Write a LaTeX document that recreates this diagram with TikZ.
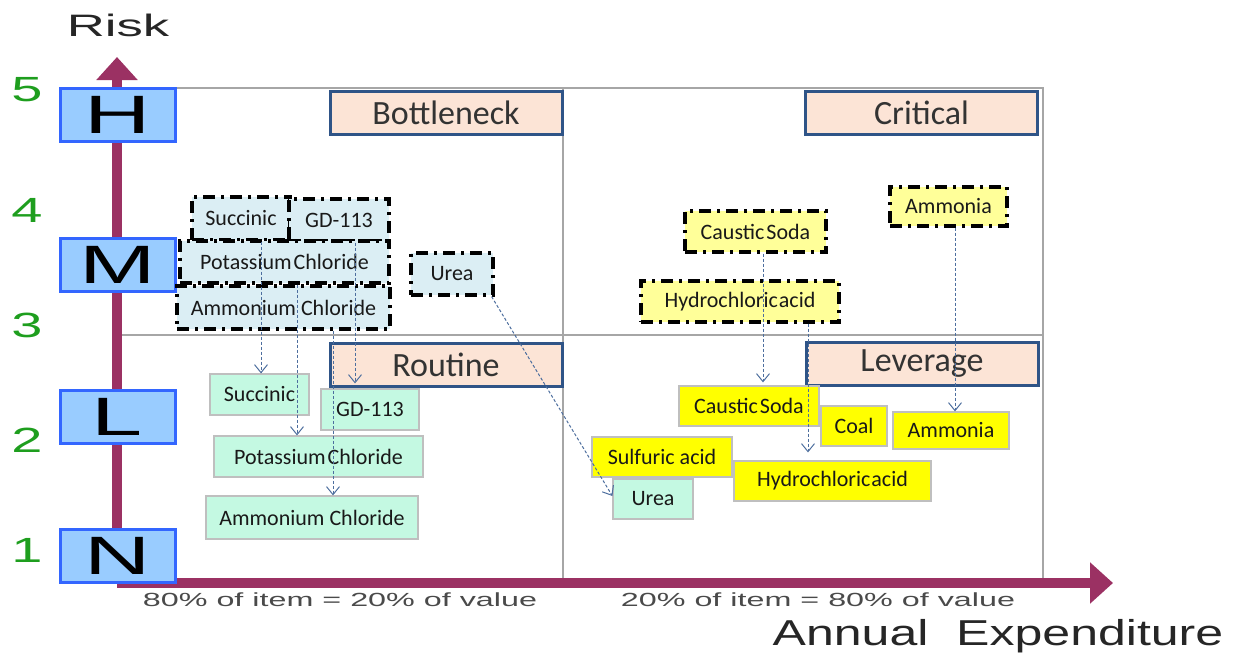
\documentclass[tikz,border=0pt]{standalone}
\usepackage{fontspec}
\usepackage{graphicx}
\setmainfont{Carlito}
\newfontfamily\axisfont{Liberation Sans}
\usetikzlibrary{arrows.meta}

\definecolor{axiscol}{HTML}{9B3163}
\definecolor{gridcol}{HTML}{A6A6A6}
\definecolor{lvlfill}{HTML}{99CCFF}
\definecolor{lvldraw}{HTML}{3366FF}
\definecolor{catfill}{HTML}{FCE4D6}
\definecolor{catdraw}{HTML}{2F5487}
\definecolor{pbluefill}{HTML}{DBEEF4}
\definecolor{pyelfill}{HTML}{FFFF99}
\definecolor{greenfill}{HTML}{C4F9E2}
\definecolor{yelfill}{HTML}{FFFF00}
\definecolor{boxedge}{HTML}{BFBFBF}
\definecolor{linkcol}{HTML}{4D6E9E}
\definecolor{numcol}{HTML}{1E9E1E}
\definecolor{notecol}{HTML}{4A4A4A}

\newcommand\itmfont{\fontsize{22}{26}\selectfont}
\newcommand\catfont{\fontsize{34}{38}\selectfont}
\newcommand\lvltext[1]{\axisfont\fontsize{54}{54}\selectfont\scalebox{1.7}[1]{#1}}
\newcommand\numtext[1]{\axisfont\fontsize{35}{35}\selectfont\scalebox{1.6}[1]{#1}}

\tikzset{
  itembox/.style={rectangle, inner sep=0pt, font=\itmfont, text=black!90},
  planbox/.style={itembox, draw=black, line width=3.2pt,
    dash pattern=on 12pt off 6pt on 3pt off 6pt},
  planblue/.style={planbox, fill=pbluefill},
  planyel/.style={planbox, fill=pyelfill},
  donebox/.style={itembox, draw=boxedge, line width=1.2pt},
  donegreen/.style={donebox, fill=greenfill},
  doneyel/.style={donebox, fill=yelfill},
  catbox/.style={rectangle, inner sep=0pt, draw=catdraw, line width=3pt,
    fill=catfill, font=\catfont, text=black!80,
    minimum width=232pt, minimum height=43pt},
  lvlbox/.style={rectangle, inner sep=0pt, draw=lvldraw, line width=3pt,
    fill=lvlfill, minimum width=115pt, minimum height=53pt},
  numlbl/.style={inner sep=0pt, text=numcol},
  axisline/.style={draw=axiscol, line width=10pt,
    -{Triangle[length=23pt,width=40pt]}},
  gridline/.style={draw=gridcol, line width=1.8pt},
  link/.style={draw=linkcol, line width=1pt, dash pattern=on 3pt off 2pt,
    -{Straight Barb[length=8pt,width=13pt]}},
}

\begin{document}
\begin{tikzpicture}[x=1pt,y=-1pt]
\useasboundingbox (0,0) rectangle (1239,656);

% quadrant grid
\draw[gridline] (117,88) rectangle (1043,583);
\draw[gridline] (563,88) -- (563,583);
\draw[gridline] (117,335) -- (1043,335);

% axes
\coordinate (orig) at (117,583);
\coordinate (ytip) at (117,57);
\coordinate (xtip) at (1113,583);
\draw[axisline] (orig) -- (ytip);
\draw[axisline] (orig) -- (xtip);

\node[inner sep=0pt, font=\axisfont\fontsize{31}{31}\selectfont, text=black!85]
  (risk) at (118,25) {\scalebox{1.7}[1]{Risk}};
\node[inner sep=0pt, font=\axisfont\fontsize{36}{36}\selectfont, text=black!85]
  (spend) at (998,636) {\scalebox{1.39}[1]{Annual\ \ Expenditure}};
\node[inner sep=0pt, font=\axisfont\fontsize{19}{19}\selectfont, text=notecol]
  (lownote) at (340,600) {\scalebox{1.7}[1]{80\% of item = 20\% of value}};
\node[inner sep=0pt, font=\axisfont\fontsize{19}{19}\selectfont, text=notecol]
  (highnote) at (818,600) {\scalebox{1.7}[1]{20\% of item = 80\% of value}};

% risk levels
\node[lvlbox] (lvH) at (117.5,114.5) {\lvltext{H}};
\node[lvlbox] (lvM) at (117.5,265) {\lvltext{M}};
\node[lvlbox] (lvL) at (117.5,417) {\lvltext{L}};
\node[lvlbox] (lvN) at (117.5,556) {\lvltext{N}};

\node[numlbl] (n5) at (27,90) {\numtext{5}};
\node[numlbl] (n4) at (27,210) {\numtext{4}};
\node[numlbl] (n3) at (27,325) {\numtext{3}};
\node[numlbl] (n2) at (27,440) {\numtext{2}};
\node[numlbl] (n1) at (27,550) {\numtext{1}};

% quadrant titles
\node[catbox] (bottleneck) at (446,112.5) {Bottleneck};
\node[catbox] (critical) at (921.5,112.5) {Critical};
\node[catbox] (routine) at (446,364.5) {Routine};
\node[catbox] (leverage) at (922,363.5) {Leverage};

% planned positions
\node[planblue, minimum width=98pt, minimum height=43pt] (dSucc) at (241,218.5) {Succinic};
\node[planblue, minimum width=100pt, minimum height=42pt] (dGD) at (339,220) {GD-113};
\node[planblue, minimum width=209pt, minimum height=42pt] (dPot) at (284.5,262) {Potassium\kern2pt Chloride};
\node[planblue, minimum width=213pt, minimum height=43pt] (dAmm) at (283.5,307.5) {Ammonium Chloride};
\node[planblue, minimum width=82pt, minimum height=42pt] (dUrea) at (452,274) {Urea};
\node[planyel, minimum width=141pt, minimum height=41pt] (dCaus) at (755.5,231.5) {Caustic\kern2pt Soda};
\node[planyel, minimum width=198pt, minimum height=41pt] (dHyd) at (740,301.5) {Hydrochloric\kern1pt acid};
\node[planyel, minimum width=117pt, minimum height=39pt] (dAmmo) at (948.5,206.5) {Ammonia};

% resulting positions
\node[donegreen, minimum width=99pt, minimum height=41pt] (gSucc) at (259.5,394.5) {Succinic};
\node[donegreen, minimum width=98pt, minimum height=41pt] (gGD) at (370,409.5) {GD-113};
\node[donegreen, minimum width=209pt, minimum height=41pt] (gPot) at (318.5,456.5) {Potassium\kern2pt Chloride};
\node[donegreen, minimum width=212pt, minimum height=43pt] (gAmm) at (312,517.5) {Ammonium Chloride};
\node[donegreen, minimum width=80pt, minimum height=40pt] (gUrea) at (653,499) {Urea};
\node[doneyel, minimum width=140pt, minimum height=40pt] (yCaus) at (749,406) {Caustic\kern2pt Soda};
\node[doneyel, minimum width=66pt, minimum height=40pt] (yCoal) at (854,426) {Coal};
\node[doneyel, minimum width=116pt, minimum height=37pt] (yAmmo) at (951,430.5) {Ammonia};
\node[doneyel, minimum width=140pt, minimum height=40pt] (ySulf) at (662,457) {Sulfuric acid};
\node[doneyel, minimum width=197pt, minimum height=40pt] (yHyd) at (832.5,481) {Hydrochloric\kern1pt acid};

% moves
\draw[link] ([xshift=20pt]dSucc.south) -- ([xshift=20pt]dSucc.south |- gSucc.north);
\draw[link] ([xshift=16pt]dGD.south) -- ([xshift=16pt,yshift=5pt]dGD.south |- gGD.north);
\draw[link] ([xshift=12.5pt]dPot.south) -- ([xshift=12.5pt]dPot.south |- gPot.north);
\draw[link] ([xshift=49.5pt]dAmm.south) -- ([xshift=49.5pt]dAmm.south |- gAmm.north);
\draw[link] ([xshift=-3pt]dUrea.south east) -- ([yshift=3pt]gUrea.west);
\draw[link] ([xshift=7.5pt]dCaus.south) -- ([xshift=7.5pt,yshift=3pt]dCaus.south |- yCaus.north);
\draw[link] ([xshift=68pt]dHyd.south) -- ([xshift=68pt,yshift=8pt]dHyd.south |- yHyd.north);
\draw[link] ([xshift=6.5pt]dAmmo.south) -- ([xshift=6.5pt]dAmmo.south |- yAmmo.north);
\end{tikzpicture}
\end{document}
